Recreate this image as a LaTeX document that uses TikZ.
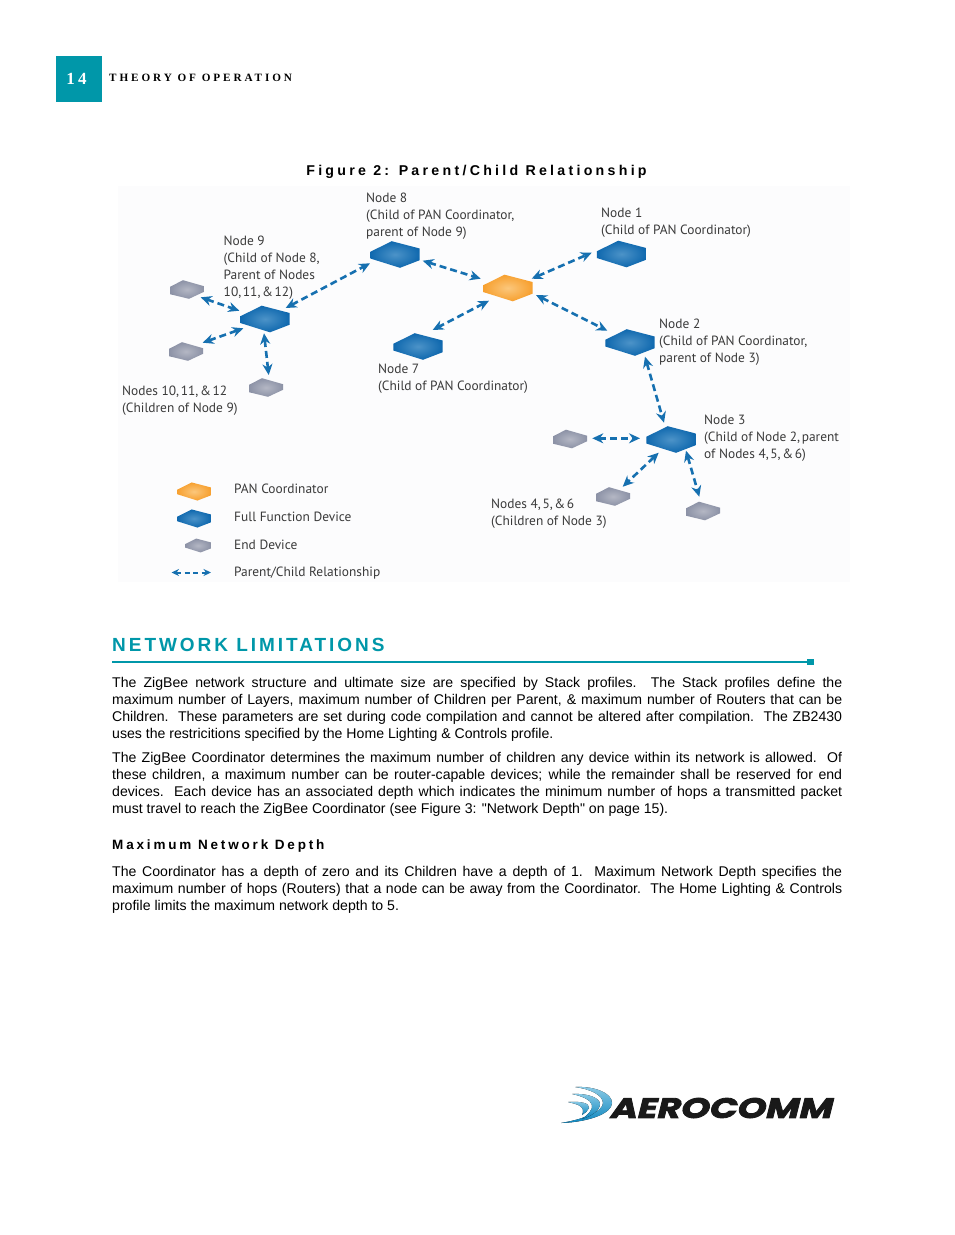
\documentclass[tikz,border=0pt]{standalone}
\usepackage{fontspec}
\usetikzlibrary{arrows.meta,calc}
\setmainfont{Liberation Sans}
\newfontfamily\bodyfont{Liberation Sans}
\newfontfamily\labfont{PT Sans}
\newfontfamily\hdrfont[LetterSpace=26]{Liberation Serif}
\newfontfamily\numfont[LetterSpace=20]{Liberation Serif}
\newfontfamily\capfont[LetterSpace=23]{Liberation Sans}
\newfontfamily\secfont[LetterSpace=15.6]{Liberation Sans}
\newfontfamily\subfont[LetterSpace=21]{Liberation Sans}
\newfontfamily\logofont[FakeSlant=0.25,FakeStretch=1.3,FakeBold=3]{Poppins}
\definecolor{teal1}{HTML}{0097A9}
\definecolor{relblue}{HTML}{1670B0}
\definecolor{labgrey}{HTML}{3A3A3A}
\definecolor{ffdout}{HTML}{0F68AE}
\definecolor{ffdin}{HTML}{4C93C8}
\definecolor{panout}{HTML}{F7A02F}
\definecolor{panin}{HTML}{FBC77C}
\definecolor{endout}{HTML}{8C92A6}
\definecolor{endin}{HTML}{B4B7C4}
\definecolor{swooshlight}{HTML}{8CCBE6}
\definecolor{swooshdark}{HTML}{0E86BE}
\definecolor{figback}{HTML}{FCFCFD}
\newcommand{\ts}{\hspace{1.6pt}}
\tikzset{
  lab/.style={anchor=north west,inner sep=0pt,align=left,font=\labfont\fontsize{13.4}{17}\selectfont,text=labgrey},
  legend/.style={anchor=west,inner sep=0pt,font=\labfont\fontsize{13.4}{17}\selectfont,text=labgrey},
  para/.style={anchor=north west,inner sep=0pt,text width=730pt,align=justify,font=\bodyfont\fontsize{14.1}{17}\selectfont,text=black},
  rel/.style={draw=relblue,line width=2.6pt,dash pattern=on 7pt off 4pt,{Stealth[length=11pt,width=10pt]}-{Stealth[length=11pt,width=10pt]}},
  anchorbox/.style={inner sep=0pt,minimum size=2pt},
  swoosh/.style={top color=swooshlight,bottom color=swooshdark,draw=none},
}
% device outline in units of the full-size hexagon: name, x, y, scale, inner, outer
\newcommand{\device}[6]{%
  \shade[inner color=#5,outer color=#6]
    (#2-24.7*#4,#3-2.7*#4) -- (#2-3.3*#4,#3-13.3*#4) -- (#2+24.7*#4,#3-6*#4) -- (#2+24.7*#4,#3+5.7*#4) -- (#2+5*#4,#3+13.3*#4) -- (#2-24.7*#4,#3+4*#4) -- cycle;
  \node[anchorbox] (#1) at (#2,#3) {};
}
\newcommand{\ffd}[3]{\device{#1}{#2}{#3}{1}{ffdin}{ffdout}}
\newcommand{\pan}[3]{\device{#1}{#2}{#3}{1}{panin}{panout}}
\newcommand{\edevice}[3]{%
  \shade[inner color=endin,outer color=endout]
    (#2-17,#3-2.7) -- (#2-4,#3-9.3) -- (#2+17,#3-3.3) -- (#2+17,#3+2.3) -- (#2+2,#3+9.3) -- (#2-17,#3+4.7) -- cycle;
  \node[anchorbox] (#1) at (#2,#3) {};
}
\newcommand{\conn}[6]{\draw[rel] ([shift={(#2,#3)}]#1.center) -- ([shift={(#5,#6)}]#4.center);}
\begin{document}
\begin{tikzpicture}[x=1pt,y=-1pt]
\useasboundingbox (0,0) rectangle (954,1235);
\fill[white] (0,0) rectangle (954,1235);
\fill[figback] (118,186) rectangle (850,582);
% header
\fill[teal1] (56,56) rectangle (102,102);
\node[inner sep=0pt,text=white,font=\numfont\bfseries\fontsize{17}{17}\selectfont] (pgnum) at (76.5,79) {14};
\node[anchor=west,inner sep=0pt,text=black,font=\hdrfont\bfseries\fontsize{11.2}{12}\selectfont] (hdr) at (109,77.5) {THEORY OF OPERATION};
% caption
\node[inner sep=0pt,font=\capfont\bfseries\fontsize{14.2}{16}\selectfont] (cap) at (476.5,171.5) {Figure 2: Parent/Child Relationship};
% devices
\ffd{n8}{395}{254.5}
\ffd{n9}{265}{319}
\ffd{n7}{418}{346.5}
\pan{pan}{507.8}{288}
\ffd{n1}{621.5}{254}
\ffd{n2}{630}{342.5}
\ffd{n3}{671}{439.5}
\edevice{e1}{187}{289.5}
\edevice{e2}{186}{351.5}
\edevice{e3}{266}{387.5}
\edevice{e4}{570}{439}
\edevice{e5}{613}{496.5}
\edevice{e6}{703}{511}
% connectors
\conn{n9}{20.7}{-11}{n8}{-25}{8.8}
\conn{n8}{27.7}{6.2}{pan}{-27.1}{-9.3}
\conn{pan}{-18.8}{12.7}{n7}{14.7}{-16.5}
\conn{e1}{13.7}{7.8}{n9}{-25.7}{-8.3}
\conn{e2}{16.7}{-8.8}{n9}{-21.7}{9.3}
\conn{n9}{-1}{14.3}{e3}{2.7}{-12.5}
\conn{pan}{23.9}{-9.3}{n1}{-29.8}{-1.3}
\conn{pan}{28.2}{7}{n2}{-22.7}{-11.8}
\conn{n2}{15}{14.2}{n3}{-7}{-16.8}
\conn{e4}{22.3}{-0.7}{n3}{-31}{-1.2}
\conn{n3}{-12.3}{13.2}{e5}{9.7}{-9.8}
\conn{n3}{15}{11.2}{e6}{-3.7}{-14.3}
% labels
\node[lab] (l8) at (366,192.5) {Node 8\\(Child of PAN Coordinator,\\parent of Node 9)};
\node[lab] (l1) at (601,208) {Node 1\\(Child of PAN Coordinator)};
\node[lab] (l9) at (223.5,235.5) {Node 9\\(Child of Node 8,\\Parent of Nodes\\10,\ts 11,\ts\&\ts 12)};
\node[lab] (l2) at (659,319) {Node 2\\(Child of PAN Coordinator,\\parent of Node 3)};
\node[lab] (l7) at (378,363.5) {Node 7\\(Child of PAN Coordinator)};
\node[lab] (l10) at (122,385.5) {Nodes 10,\ts 11,\ts\&\ts 12\\(Children of Node 9)};
\node[lab] (l3) at (704,414.5) {Node 3\\(Child of Node 2,\ts parent\\of Nodes 4,\ts 5,\ts\&\ts 6)};
\node[lab] (l4) at (491,499) {Nodes 4,\ts 5,\ts\&\ts 6\\(Children of Node 3)};
% legend
\device{lgpan}{194}{491.5}{0.68}{panin}{panout}
\device{lgffd}{194}{518.5}{0.68}{ffdin}{ffdout}
\device{lgend}{198}{545.5}{0.52}{endin}{endout}
\coordinate (lga) at (171.5,572.5);
\coordinate (lgb) at (211,572.5);
\draw[draw=relblue,line width=2pt,dash pattern=on 5pt off 3.5pt,{Stealth[length=7.5pt,width=7pt]}-{Stealth[length=7.5pt,width=7pt]}] (lga) -- (lgb);
\node[legend] (t1) at (234,489) {PAN Coordinator};
\node[legend] (t2) at (234,517) {Full Function Device};
\node[legend] (t3) at (234,545) {End Device};
\node[legend] (t4) at (234,573) {Parent/Child Relationship};
% section
\node[anchor=west,inner sep=0pt,text=teal1,font=\secfont\bfseries\fontsize{19}{20}\selectfont] (sec) at (112,645) {NETWORK LIMITATIONS};
\coordinate (rula) at (112,662);
\coordinate (rulb) at (808,662);
\draw[teal1,line width=1.5pt] (rula) -- (rulb);
\fill[teal1] (807,659) rectangle (813.5,664.5);
% body
\node[para] (p1) at (112,677) {The ZigBee network structure and ultimate size are specified by Stack profiles.\ \ The Stack profiles define the\linebreak maximum number of Layers, maximum number of Children per Parent, \& maximum number of Routers that can be\linebreak Children.\ \ These parameters are set during code compilation and cannot be altered after compilation.\ \ The ZB2430\linebreak uses the restricitions specified by the Home Lighting \& Controls profile.};
\node[para] (p2) at (112,752) {The ZigBee Coordinator determines the maximum number of children any device within its network is allowed.\ \ Of\linebreak these children, a maximum number can be router-capable devices; while the remainder shall be reserved for end\linebreak devices.\ \ Each device has an associated depth which indicates the minimum number of hops a transmitted packet\linebreak must travel to reach the ZigBee Coordinator (see Figure 3: "Network Depth" on page 15).};
\node[anchor=west,inner sep=0pt,font=\subfont\bfseries\fontsize{13.5}{14}\selectfont] (sub) at (112,845.5) {Maximum Network Depth};
\node[para] (p3) at (112,866) {The Coordinator has a depth of zero and its Children have a depth of 1.\ \ Maximum Network Depth specifies the\linebreak maximum number of hops (Routers) that a node can be away from the Coordinator.\ \ The Home Lighting \& Controls\linebreak profile limits the maximum network depth to 5.};
% logo
\fill[swoosh] (575,1087) .. controls (595,1086) and (612,1093) .. (612,1103) .. controls (612,1113) and (590,1122) .. (561,1123) .. controls (585,1119) and (603,1111) .. (603,1103) .. controls (603,1095) and (590,1089) .. (575,1087) -- cycle;
\fill[swoosh] (572,1094) .. controls (588,1093) and (600,1098) .. (600,1104) .. controls (600,1110) and (592,1116) .. (582,1119) .. controls (589,1114) and (593,1109) .. (592,1105) .. controls (591,1100) and (582,1096) .. (572,1094) -- cycle;
\fill[swoosh] (568,1102) .. controls (580,1101) and (590,1103) .. (589,1108) .. controls (588,1111) and (585,1113) .. (582,1115) .. controls (584,1111) and (583,1108) .. (580,1106) .. controls (577,1104) and (572,1103) .. (568,1102) -- cycle;
\node[anchor=west,inner sep=0pt,text=black!90,font=\logofont\bfseries\fontsize{28}{28}\selectfont] (logo) at (609,1108) {AEROCOMM};
\end{tikzpicture}
\end{document}
